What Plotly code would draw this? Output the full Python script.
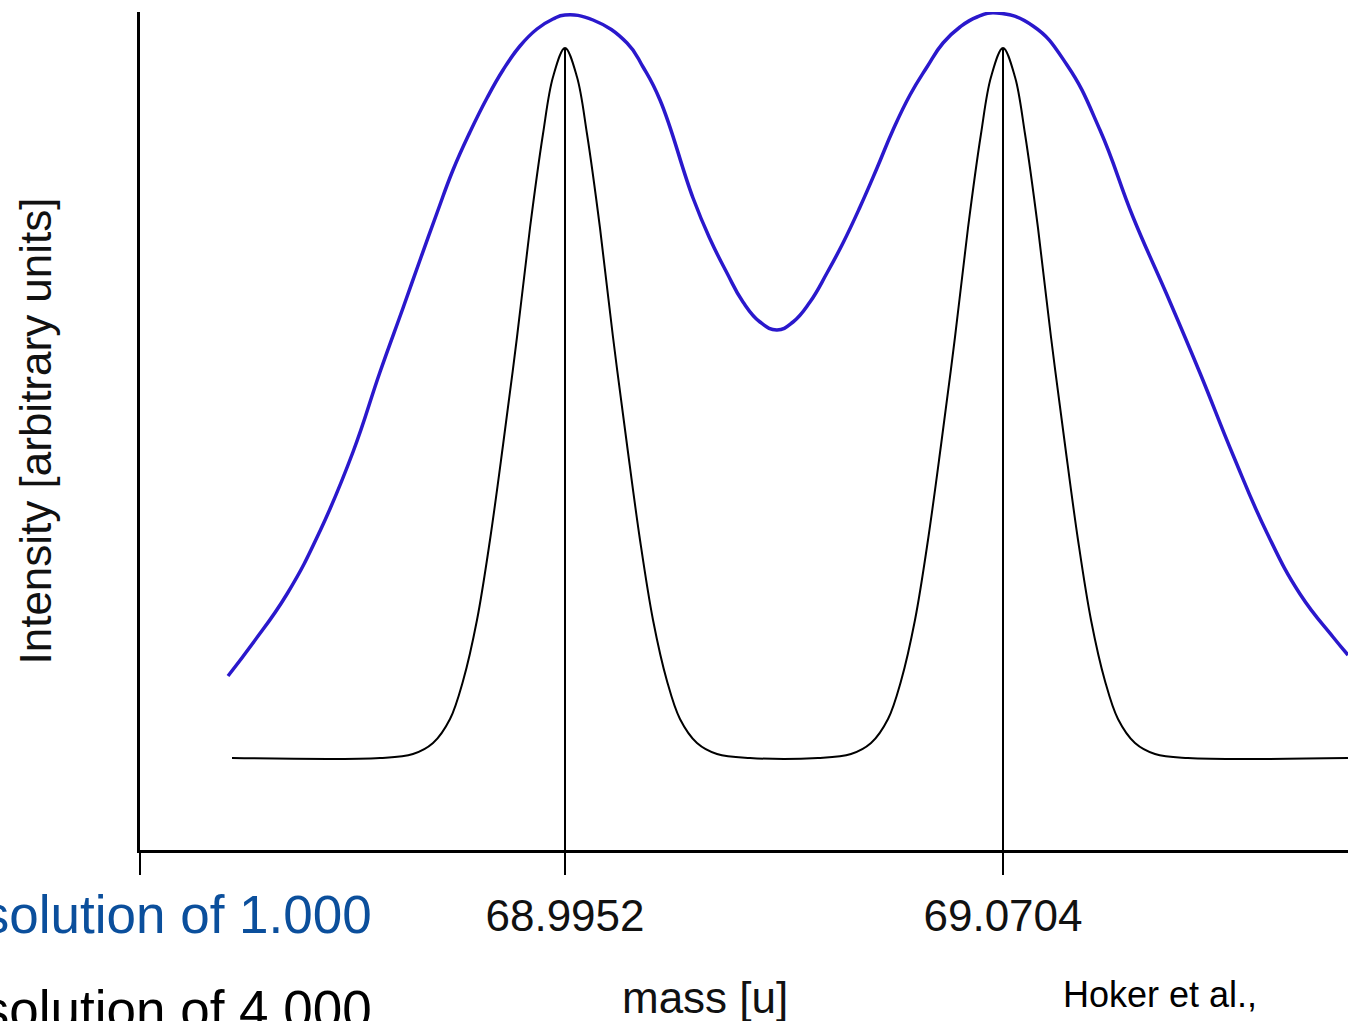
import plotly.graph_objects as go

# ---- data ----
peak_masses = [68.9952, 69.0704]
tick_labels = ["68.9952", "69.0704"]

# Resolution 1.000 (blue) trace
blue_mass = [68.93734, 68.94163, 68.94747, 68.95314, 68.95880, 68.96344, 68.96739, 68.97031,
             68.97322, 68.97597, 68.97889, 68.98181, 68.98456, 68.98747, 68.99039, 68.99314,
             68.99520, 69.00001, 69.00585, 69.00860, 69.01151, 69.01718, 69.02010, 69.02301,
             69.02576, 69.02868, 69.03160, 69.03435, 69.03726, 69.04018, 69.04293, 69.04585,
             69.04877, 69.05151, 69.05443, 69.05735, 69.06010, 69.06302, 69.06594, 69.06937,
             69.07555, 69.08139, 69.08705, 69.09272, 69.09856, 69.10422, 69.10989, 69.11573,
             69.12139, 69.12706, 69.12963]
blue_int = [174, 207, 256, 319, 398, 478, 542, 590, 637, 680, 718, 752, 780, 804, 821, 831,
            835, 830, 807, 783, 750, 652, 611, 577, 548, 528, 520, 528, 548, 577, 607, 643,
            682, 720, 755, 783, 807, 823, 833, 837, 824, 785, 720, 633, 555, 477, 395, 317,
            256, 213, 195]

# Resolution 4.000 (black) trace
black_mass = [68.93803,
              68.96344, 68.96910, 68.97254, 68.97546, 68.97769, 68.98009, 68.98232, 68.98456,
              68.98696, 68.98919, 68.99142, 68.99314, 68.99520, 68.99726, 68.99898, 69.00121,
              69.00344, 69.00585, 69.00808, 69.01031, 69.01271, 69.01494, 69.01786, 69.02130,
              69.02696,
              69.03864, 69.04430, 69.04774, 69.05066, 69.05289, 69.05529, 69.05752, 69.05976,
              69.06216, 69.06439, 69.06662, 69.06834, 69.07040, 69.07246, 69.07418, 69.07641,
              69.07864, 69.08105, 69.08328, 69.08551, 69.08791, 69.09014, 69.09306, 69.09650,
              69.10216,
              69.12963]
black_int = [92,
             92, 96, 107, 131, 169, 230, 310, 405, 513, 622, 716, 773, 802, 773, 716, 622,
             513, 405, 310, 230, 169, 131, 107, 96, 92,
             92, 96, 107, 131, 169, 230, 310, 405, 513, 622, 716, 773, 802, 773, 716, 622,
             513, 405, 310, 230, 169, 131, 107, 96, 92,
             92]
peak_int = [802, 802]

x_range = [68.922232, 69.129633]
y_range = [0, 838]

FONT = "Arial, Liberation Sans, sans-serif"
W, H = 1348, 1021
L, R, T, B = 140, 0, 12, 171
PW, PH = W - L - R, H - T - B


def px(x):
    return (x - L) / PW


def py(y):
    return (H - B - y) / PH


fig = go.Figure()
fig.add_trace(go.Scatter(x=blue_mass, y=blue_int, mode="lines",
                         line=dict(color="#2a18cc", width=3.5, shape="spline", smoothing=1.3),
                         name="Resolution of 1.000", hoverinfo="skip"))
fig.add_trace(go.Scatter(x=black_mass, y=black_int, mode="lines",
                         line=dict(color="#000000", width=2, shape="spline", smoothing=1.0),
                         name="Resolution of 4.000", hoverinfo="skip"))
for m, h in zip(peak_masses, peak_int):
    fig.add_trace(go.Scatter(x=[m, m], y=[y_range[0], h], mode="lines",
                             line=dict(color="#000000", width=2), showlegend=False,
                             hoverinfo="skip"))

fig.update_layout(
    width=W, height=H,
    margin=dict(l=L, r=R, t=T, b=B),
    paper_bgcolor="white", plot_bgcolor="white",
    showlegend=False,
    font=dict(family=FONT, color="black"),
    xaxis=dict(range=x_range, showgrid=False, zeroline=False,
               showline=True, linecolor="black", linewidth=3,
               tickmode="array", tickvals=[x_range[0]] + peak_masses,
               ticktext=[""] + tick_labels,
               ticks="outside", ticklen=22, tickwidth=2, tickcolor="black",
               ticklabelstandoff=3,
               tickfont=dict(size=44, family=FONT, color="#111111"),
               automargin=False),
    yaxis=dict(range=y_range, showgrid=False, zeroline=False,
               showline=True, linecolor="black", linewidth=3,
               showticklabels=False, ticks="",
               title=dict(text="Intensity [arbitrary units]",
                          font=dict(size=44, family=FONT, color="#111111"), standoff=72),
               automargin=False),
)

# x-axis title (offset left of plot centre, as in the reference)
fig.add_annotation(xref="paper", yref="paper", x=px(705), y=py(998),
                   xanchor="center", yanchor="middle", showarrow=False,
                   text="mass [u]", font=dict(size=44, family=FONT, color="#111111"))
fig.add_annotation(xref="paper", yref="paper", x=px(374), y=py(914),
                   xanchor="right", yanchor="middle", showarrow=False,
                   text="Resolution of 1.000",
                   font=dict(size=53, family=FONT, color="#0b4f9c"))
fig.add_annotation(xref="paper", yref="paper", x=px(374), y=py(1009),
                   xanchor="right", yanchor="middle", showarrow=False,
                   text="Resolution of 4.000",
                   font=dict(size=53, family=FONT, color="#000000"))
fig.add_annotation(xref="paper", yref="paper", x=px(1160), y=py(994),
                   xanchor="center", yanchor="middle", showarrow=False,
                   text="Hoker et al.,",
                   font=dict(size=36, family=FONT, color="#000000"))

fig.write_html("out.html")
